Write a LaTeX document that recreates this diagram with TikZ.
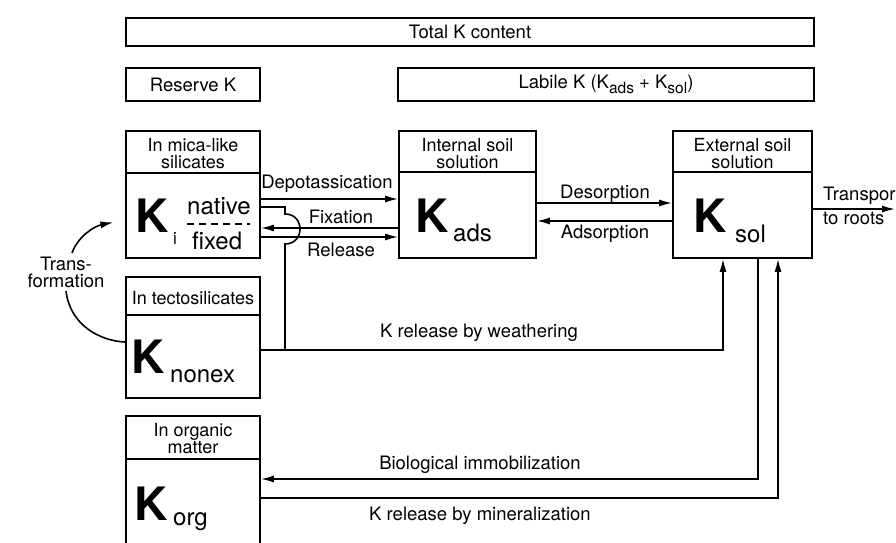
\documentclass[tikz,border=0pt]{standalone}
\usepackage{fontspec}
\setmainfont{TeX Gyre Heros}
\usetikzlibrary{arrows.meta}
\newcommand{\lowsub}[1]{\raisebox{-4.5pt}{\fontsize{15.5}{15.5}\selectfont #1}}
\tikzset{
  box/.style={draw, line width=1.7pt, inner sep=0pt, rectangle},
  divl/.style={line width=1.7pt},
  arr/.style={line width=1.6pt, -{Latex[length=13pt,width=7pt]}},
  ln/.style={line width=1.6pt},
  lbl/.style={font=\fontsize{18.5}{17}\selectfont, inner sep=0pt},
  hdr/.style={font=\fontsize{18}{17}\selectfont, align=center, inner sep=0pt},
  bigK/.style={font=\fontsize{46}{46}\selectfont\bfseries, inner sep=0pt, anchor=base west},
  subk/.style={font=\fontsize{24}{24}\selectfont, inner sep=0pt, anchor=base west},
}
\begin{document}
\begin{tikzpicture}[x=1pt,y=-1pt]
\useasboundingbox (0,0) rectangle (896,542);
\clip (0,0) rectangle (896,542);
% top boxes
\node[box, lbl, minimum width=688, minimum height=28] (total) at (470,32) {Total K content};
\node[box, lbl, minimum width=134, minimum height=33] (reserve) at (193,84.5) {Reserve K};
\node[box, lbl, minimum width=416, minimum height=33] (labile) at (606,84.5) {Labile K (K\lowsub{ads} + K\lowsub{sol})};
% pool boxes
\node[box, minimum width=134, minimum height=127] (mica) at (193,194.5) {};
\node[box, minimum width=134, minimum height=121] (tecto) at (193,337.5) {};
\node[box, minimum width=134, minimum height=136] (org) at (193,484) {};
\node[box, minimum width=137, minimum height=127] (kads) at (467.5,194.5) {};
\node[box, minimum width=139, minimum height=127] (ksol) at (742.5,194.5) {};
% header dividers
\draw[divl] (mica.west |- 0,173) -- (mica.east |- 0,173);
\draw[divl] (tecto.west |- 0,315) -- (tecto.east |- 0,315);
\draw[divl] (org.west |- 0,459) -- (org.east |- 0,459);
\draw[divl] (kads.west |- 0,172) -- (kads.east |- 0,172);
\draw[divl] (ksol.west |- 0,172) -- (ksol.east |- 0,172);
% headers
\node[hdr] (hmica) at (193,154) {In mica-like\\silicates};
\node[hdr] (htecto) at (193,298) {In tectosilicates};
\node[hdr] (horg) at (193,439) {In organic\\matter};
\node[hdr] (hkads) at (467.5,154) {Internal soil\\solution};
\node[hdr] (hksol) at (742.5,154) {External soil\\solution};
% pool symbols
\node[bigK] (Ki) at (135,232) {K};
\node[font=\fontsize{17}{17}\selectfont, inner sep=0pt, anchor=base west] (isub) at (173,244) {i};
\node[subk] (nat) at (187,214) {native};
\node[subk] (fix) at (192,249) {fixed};
\draw[line width=1.2pt, dash pattern=on 7pt off 5pt] (187,224) -- (250,224);
\node[bigK] (Knonex) at (131,373) {K};
\node[subk] (snonex) at (170,382) {nonex};
\node[bigK] (Korg) at (134,520) {K};
\node[subk] (sorg) at (173,525) {org};
\node[bigK] (Kads) at (415,232) {K};
\node[subk] (sads) at (453,241) {ads};
\node[bigK] (Ksol) at (693,232) {K};
\node[subk] (ssol) at (735,242) {sol};
% arrows between mica and kads
\draw[arr] (mica.east |- 0,199) -- (kads.west |- 0,199);
\draw[arr] (kads.west |- 0,228) -- (mica.east |- 0,228);
\draw[arr] (mica.east |- 0,237) -- (kads.west |- 0,237);
\node[lbl, anchor=base] (ldep) at (327,188) {Depotassication};
\node[lbl, anchor=base] (lfix) at (341,223) {Fixation};
\node[lbl, anchor=base] (lrel) at (341,256) {Release};
% native weathering line with hop
\draw[ln] (mica.east |- 0,207) -- (285,207) -- (285,214) .. controls (305,214) and (305,244) .. (285,244) -- (285,350);
% kads <-> ksol
\draw[arr] (kads.east |- 0,203) -- (ksol.west |- 0,203);
\draw[arr] (ksol.west |- 0,221) -- (kads.east |- 0,221);
\node[lbl, anchor=base] (ldes) at (605,198) {Desorption};
\node[lbl, anchor=base] (lads) at (605,238) {Adsorption};
% transport
\coordinate (roots) at (895,209);
\draw[arr] (ksol.east |- 0,209) -- (roots);
\node[lbl, anchor=base west] (ltr) at (823,200) {Transport};
\node[lbl, anchor=base west] (ltr2) at (823,224) {to roots};
% weathering
\draw[arr] (tecto.east |- 0,350) -| (ksol.south -| 723,0);
\node[lbl, anchor=base] (lwea) at (479,337) {K release by weathering};
% organic
\draw[arr] (ksol.south -| 758,0) |- (org.east |- 0,479);
\draw[arr] (org.east |- 0,498) -| (ksol.south -| 778,0);
\node[lbl, anchor=base] (limm) at (480,469) {Biological immobilization};
\node[lbl, anchor=base] (lmin) at (480,520) {K release by mineralization};
% transformation
\node[hdr, font=\fontsize{18.5}{17}\selectfont] (ltrans) at (66,272) {Trans-\\formation};
\coordinate (tup) at (72,253);
\coordinate (tdn) at (66,291);
\draw[arr] (tup) .. controls (78,236) and (95,226) .. (mica.west |- 0,220) [shorten >=12pt];
\draw[ln] (tdn) .. controls (70,325) and (100,341) .. (tecto.west |- 0,342);
\end{tikzpicture}
\end{document}
